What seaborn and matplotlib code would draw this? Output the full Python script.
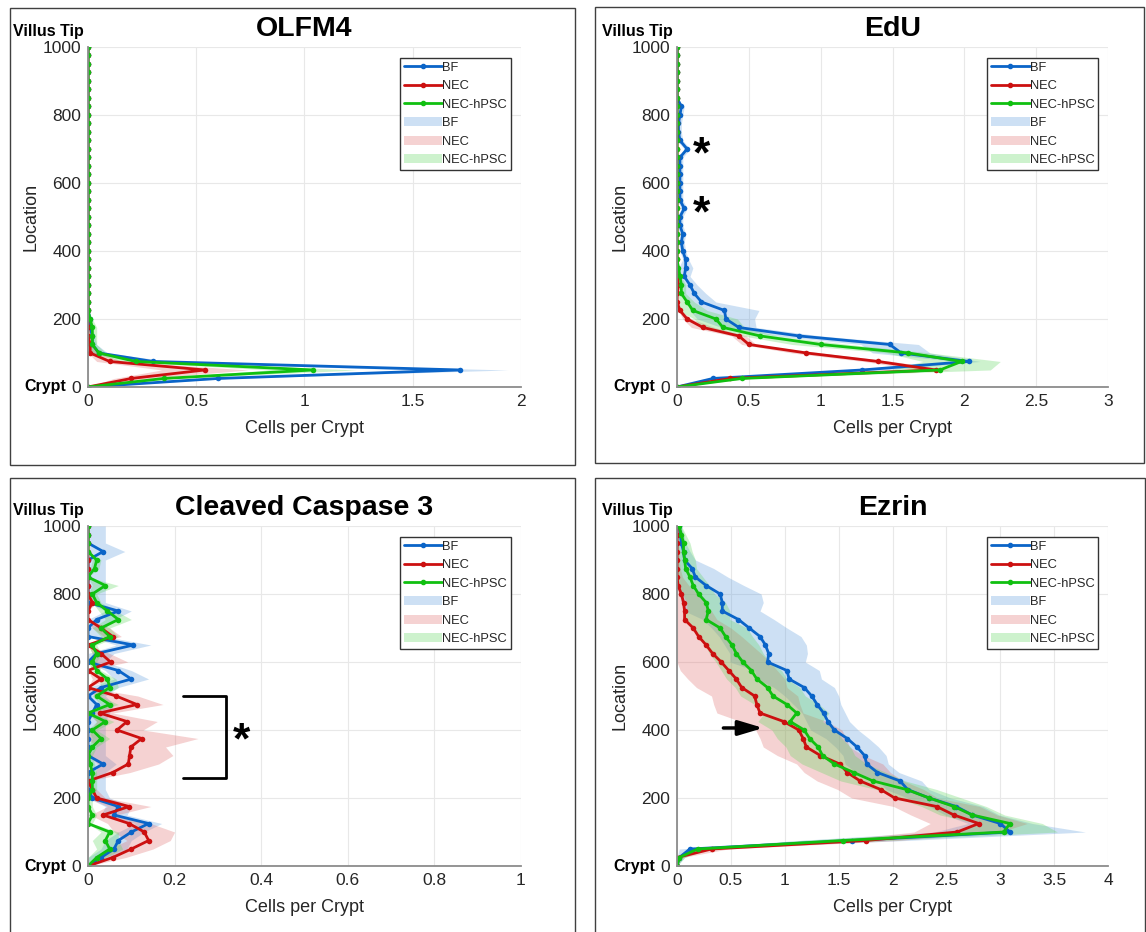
import numpy as np
import matplotlib
matplotlib.use("Agg")
import matplotlib.pyplot as plt
import seaborn as sns
from matplotlib.lines import Line2D
from matplotlib.patches import Patch, Rectangle
from matplotlib.ticker import FuncFormatter

# ------------------------------------------------------------------
# dados (posição 0 -> 1000, passo 25)
# ------------------------------------------------------------------
location = list(range(0, 1001, 25))
groups = ["BF", "NEC", "NEC-hPSC"]

# OLFM4
olfm4_bf = [0, 0.6, 1.72, 0.3, 0.05, 0.02, 0.02, 0.01, 0.01, 0, 0, 0, 0, 0, 0, 0, 0, 0, 0, 0, 0,
            0, 0, 0, 0, 0, 0, 0, 0, 0, 0, 0, 0, 0, 0, 0, 0, 0, 0, 0, 0]
olfm4_nec = [0, 0.2, 0.54, 0.1, 0.01, 0.01, 0, 0, 0, 0, 0, 0, 0, 0, 0, 0, 0, 0, 0, 0, 0,
             0, 0, 0, 0, 0, 0, 0, 0, 0, 0, 0, 0, 0, 0, 0, 0, 0, 0, 0, 0]
olfm4_hpsc = [0, 0.35, 1.04, 0.22, 0.05, 0.02, 0.02, 0.02, 0.01, 0, 0, 0, 0, 0, 0, 0, 0, 0, 0, 0, 0,
              0, 0, 0, 0, 0, 0, 0, 0, 0, 0, 0, 0, 0, 0, 0, 0, 0, 0, 0, 0]
olfm4_bf_sem = [0, 0.05, 0.22, 0.08, 0.04, 0.02, 0.01, 0.01, 0, 0, 0, 0, 0, 0, 0, 0, 0, 0, 0, 0, 0,
                0, 0, 0, 0, 0, 0, 0, 0, 0, 0, 0, 0, 0, 0, 0, 0, 0, 0, 0, 0]
olfm4_nec_sem = [0, 0.08, 0.2, 0.06, 0.04, 0.01, 0, 0, 0, 0, 0, 0, 0, 0, 0, 0, 0, 0, 0, 0, 0,
                 0, 0, 0, 0, 0, 0, 0, 0, 0, 0, 0, 0, 0, 0, 0, 0, 0, 0, 0, 0]
olfm4_hpsc_sem = [0, 0.05, 0.2, 0.07, 0.03, 0.02, 0.02, 0.02, 0.01, 0, 0, 0, 0, 0, 0, 0, 0, 0, 0, 0, 0,
                  0, 0, 0, 0, 0, 0, 0, 0, 0, 0, 0, 0, 0, 0, 0, 0, 0, 0, 0, 0]

# EdU
edu_bf = [0, 0.25, 1.29, 2.03, 1.56, 1.48, 0.85, 0.43, 0.34, 0.33, 0.17, 0.12, 0.09, 0.05, 0.06, 0.06,
          0.04, 0.03, 0.04, 0.02, 0.02, 0.05, 0.02, 0.02, 0.02, 0.02, 0.02, 0.02, 0.07, 0.02, 0.01,
          0.01, 0.02, 0.03, 0, 0, 0, 0, 0, 0, 0]
edu_nec = [0, 0.37, 1.8, 1.4, 0.9, 0.5, 0.43, 0.18, 0.07, 0.02, 0, 0, 0.01, 0, 0, 0, 0, 0, 0, 0, 0,
           0, 0, 0, 0, 0, 0, 0, 0, 0, 0, 0, 0, 0, 0, 0, 0, 0, 0, 0, 0]
edu_hpsc = [0, 0.45, 1.83, 1.98, 1.61, 1.0, 0.58, 0.32, 0.27, 0.11, 0.07, 0.03, 0.03, 0.02, 0.01, 0,
            0, 0, 0, 0, 0, 0, 0, 0, 0, 0, 0, 0, 0, 0, 0, 0, 0, 0, 0, 0, 0, 0, 0, 0, 0]
edu_bf_sem = [0, 0.05, 0.15, 0.08, 0.2, 0.2, 0.15, 0.12, 0.2, 0.24, 0.1, 0.08, 0.05, 0.04, 0.05, 0.02,
              0.02, 0.02, 0.02, 0.02, 0.02, 0.02, 0.02, 0.02, 0.02, 0.02, 0.02, 0.02, 0.02, 0.02, 0.02,
              0.02, 0.02, 0.02, 0, 0, 0, 0, 0, 0, 0]
edu_nec_sem = [0, 0.1, 0.1, 0.1, 0.1, 0.05, 0.05, 0.08, 0.03, 0.01, 0.01, 0.01, 0.01, 0.01, 0, 0,
               0, 0, 0, 0, 0, 0, 0, 0, 0, 0, 0, 0, 0, 0, 0, 0, 0, 0, 0, 0, 0, 0, 0, 0, 0]
edu_hpsc_sem = [0, 0.05, 0.35, 0.27, 0.15, 0.2, 0.12, 0.15, 0.15, 0.1, 0.05, 0.03, 0.03, 0.01, 0.01, 0,
                0, 0, 0, 0, 0, 0, 0, 0, 0, 0, 0, 0, 0, 0, 0, 0, 0, 0, 0, 0, 0, 0, 0, 0, 0]

# Cleaved Caspase 3
casp_bf = [0, 0.03, 0.06, 0.07, 0.10, 0.14, 0.06, 0.07, 0.01, 0, 0, 0, 0.035, 0, 0, 0, 0, 0, 0.01, 0.02,
           0, 0.03, 0.10, 0.07, 0, 0.02, 0.105, 0, 0, 0.02, 0.07, 0, 0, 0, 0, 0, 0, 0.035, 0, 0, 0]
casp_nec = [0, 0.057, 0.10, 0.14, 0.13, 0.095, 0.035, 0.095, 0.02, 0.01, 0, 0.057, 0.093, 0.096, 0.099,
            0.124, 0.067, 0.09, 0.027, 0.113, 0.065, 0, 0.03, 0, 0.052, 0.03, 0, 0.057, 0.03, 0, 0,
            0.01, 0, 0, 0, 0, 0, 0, 0, 0, 0]
casp_hpsc = [0, 0.02, 0.05, 0.04, 0.05, 0, 0.01, 0, 0, 0.01, 0.01, 0.01, 0.005, 0, 0.01, 0.03, 0.01,
             0.04, 0, 0.05, 0.02, 0.05, 0.045, 0.02, 0.01, 0.02, 0.01, 0.05, 0.03, 0.07, 0.045, 0.02,
             0.01, 0.04, 0, 0.015, 0.02, 0, 0, 0, 0]
casp_bf_sem = [0, 0.03, 0.03, 0.03, 0.03, 0.03, 0.03, 0.03, 0.04, 0.04, 0.04, 0.04, 0.03, 0.04, 0.04,
               0.04, 0.04, 0.04, 0.04, 0.04, 0.04, 0.04, 0.04, 0.03, 0.04, 0.04, 0.04, 0.04, 0.04, 0.04,
               0.03, 0.04, 0.04, 0.04, 0.04, 0.04, 0.04, 0.05, 0.04, 0.04, 0.04]
casp_nec_sem = [0, 0.03, 0.05, 0.05, 0.07, 0.05, 0.03, 0.05, 0.02, 0.01, 0, 0.04, 0.07, 0.1, 0.08,
                0.13, 0.06, 0.07, 0.03, 0.06, 0.05, 0, 0.02, 0, 0.04, 0.02, 0, 0.02, 0.02, 0, 0,
                0.01, 0, 0, 0, 0, 0, 0, 0, 0, 0]
casp_hpsc_sem = [0, 0.02, 0.03, 0.03, 0.02, 0.01, 0.01, 0.01, 0.01, 0.01, 0.01, 0.01, 0.01, 0.01, 0.01,
                 0.02, 0.01, 0.02, 0.01, 0.02, 0.01, 0.02, 0.02, 0.01, 0.01, 0.01, 0.01, 0.02, 0.02,
                 0.03, 0.02, 0.01, 0.01, 0.03, 0, 0.01, 0.01, 0, 0, 0, 0]

# Ezrin
ezrin_bf = [0, 0.02, 0.12, 1.62, 3.09, 3.0, 2.74, 2.59, 2.34, 2.14, 2.07, 1.86, 1.76, 1.74, 1.67, 1.58,
            1.46, 1.40, 1.36, 1.30, 1.25, 1.18, 1.04, 1.02, 0.84, 0.85, 0.82, 0.77, 0.67, 0.57, 0.42,
            0.42, 0.40, 0.27, 0.17, 0.14, 0.07, 0.06, 0.04, 0.03, 0.02]
ezrin_nec = [0, 0, 0.32, 1.75, 2.60, 2.80, 2.57, 2.41, 2.02, 1.89, 1.70, 1.58, 1.51, 1.33, 1.20, 1.17,
             1.13, 0.99, 0.77, 0.74, 0.72, 0.60, 0.55, 0.48, 0.41, 0.33, 0.27, 0.20, 0.15, 0.07, 0.07,
             0.06, 0.04, 0.01, 0, 0, 0, 0, 0, 0, 0]
ezrin_hpsc = [0, 0.02, 0.19, 1.54, 3.03, 3.09, 2.74, 2.57, 2.34, 2.13, 1.82, 1.64, 1.46, 1.35, 1.31,
              1.23, 1.18, 1.05, 1.11, 1.02, 0.89, 0.84, 0.74, 0.69, 0.61, 0.55, 0.51, 0.45, 0.40, 0.27,
              0.29, 0.27, 0.20, 0.15, 0.12, 0.08, 0.07, 0.06, 0.06, 0.04, 0.02]
ezrin_bf_sem = [0, 0.05, 0.1, 0.5, 0.7, 0.3, 0.25, 0.25, 0.2, 0.2, 0.2, 0.2, 0.2, 0.2, 0.2, 0.2, 0.22,
                0.2, 0.2, 0.22, 0.25, 0.28, 0.3, 0.3, 0.35, 0.36, 0.38, 0.38, 0.35, 0.33, 0.35, 0.38,
                0.38, 0.35, 0.3, 0.2, 0.1, 0.06, 0.04, 0.03, 0.02]
ezrin_nec_sem = [0, 0.05, 0.15, 0.3, 0.4, 0.45, 0.4, 0.4, 0.4, 0.4, 0.4, 0.4, 0.4, 0.4, 0.4, 0.4, 0.4,
                 0.4, 0.4, 0.4, 0.4, 0.42, 0.45, 0.45, 0.45, 0.45, 0.42, 0.4, 0.35, 0.3, 0.25, 0.2,
                 0.15, 0.1, 0.05, 0.03, 0.02, 0.02, 0.01, 0.01, 0.01]
ezrin_hpsc_sem = [0, 0.05, 0.1, 0.4, 0.5, 0.3, 0.3, 0.3, 0.3, 0.28, 0.3, 0.3, 0.3, 0.3, 0.3, 0.3, 0.3,
                  0.3, 0.3, 0.3, 0.3, 0.3, 0.28, 0.28, 0.25, 0.25, 0.25, 0.25, 0.25, 0.22, 0.2, 0.18,
                  0.15, 0.15, 0.12, 0.1, 0.1, 0.08, 0.06, 0.04, 0.02]

line_colors = ["#0a64c8", "#cc1010", "#10c010"]
band_colors = ["#5b9bdc", "#e06a6a", "#5cd65c"]

# ------------------------------------------------------------------
# figura
# ------------------------------------------------------------------
sns.set_style("whitegrid")
plt.rcParams["font.family"] = ["Liberation Sans", "DejaVu Sans"]

fig = plt.figure(figsize=(11.46, 9.32), dpi=100)

# molduras de cada painel
for (x0, y0, w, h) in [(0.009, 0.501, 0.493, 0.490), (0.519, 0.503, 0.479, 0.490),
                       (0.009, -0.01, 0.493, 0.497), (0.519, -0.01, 0.480, 0.497)]:
    fig.add_artist(Rectangle((x0, y0), w, h, transform=fig.transFigure,
                             fill=False, edgecolor="#404040", linewidth=1.0))

panels = [
    ("OLFM4", [0.0768, 0.5848, 0.3778, 0.3648], 2, 0.5,
     [olfm4_bf, olfm4_nec, olfm4_hpsc], [olfm4_bf_sem, olfm4_nec_sem, olfm4_hpsc_sem]),
    ("EdU", [0.5908, 0.5848, 0.3761, 0.3648], 3, 0.5,
     [edu_bf, edu_nec, edu_hpsc], [edu_bf_sem, edu_nec_sem, edu_hpsc_sem]),
    ("Cleaved Caspase 3", [0.0768, 0.0708, 0.3778, 0.3648], 1, 0.2,
     [casp_bf, casp_nec, casp_hpsc], [casp_bf_sem, casp_nec_sem, casp_hpsc_sem]),
    ("Ezrin", [0.5908, 0.0708, 0.3761, 0.3648], 4, 0.5,
     [ezrin_bf, ezrin_nec, ezrin_hpsc], [ezrin_bf_sem, ezrin_nec_sem, ezrin_hpsc_sem]),
]

loc = np.array(location)
axes = {}
for title, rect, xmax, xstep, means, sems in panels:
    ax = fig.add_axes(rect)
    axes[title] = ax
    # linhas primeiro, faixas por cima (como no original)
    for m, c in zip(means, line_colors):
        sns.lineplot(x=m, y=location, orient="y", ax=ax, color=c, linewidth=2,
                     marker="o", markersize=4, markeredgewidth=0, sort=False)
    for m, s, c in zip(means, sems, band_colors):
        m = np.array(m)
        s = np.array(s)
        ax.fill_betweenx(loc, np.clip(m - s, 0, None), m + s, color=c, alpha=0.3, linewidth=0)

    ax.set_xlim(0, xmax)
    ax.set_ylim(0, 1000)
    ax.set_xticks(np.arange(0, xmax + 1e-9, xstep))
    ax.set_yticks(range(0, 1001, 200))
    ax.xaxis.set_major_formatter(FuncFormatter(lambda v, p: f"{v:g}"))
    ax.grid(True, color="#e8e8e8", linewidth=0.8)
    for sp in ["top", "right"]:
        ax.spines[sp].set_visible(False)
    for sp in ["left", "bottom"]:
        ax.spines[sp].set_color("#8c8c8c")
        ax.spines[sp].set_linewidth(1.3)
    ax.tick_params(axis="both", direction="in", length=4, width=1, color="#555555",
                   labelsize=12.5, labelcolor="#262626", pad=5)
    ax.set_xlabel("Cells per Crypt", fontsize=13, color="#262626", labelpad=8)
    ax.set_ylabel("Location", fontsize=13, color="#262626", labelpad=2)

    ax.text(0.5, 1.052, title, transform=ax.transAxes, ha="center", va="center",
            fontsize=20.5, fontweight="bold", color="black")
    ax.text(-0.01, 1.045, "Villus Tip", transform=ax.transAxes, ha="right", va="center",
            fontsize=11.5, fontweight="bold", color="black")
    ax.text(-0.05, 0.0, "Crypt", transform=ax.transAxes, ha="right", va="center",
            fontsize=11.5, fontweight="bold", color="black")

    handles = [Line2D([0], [0], color=c, lw=2, marker="o", markersize=3) for c in line_colors]
    handles += [Patch(facecolor=c, alpha=0.3, edgecolor="none") for c in band_colors]
    leg = ax.legend(handles, groups + groups, loc="upper right", bbox_to_anchor=(0.977, 0.968),
                    fontsize=9.3, handlelength=3.0, handletextpad=0.0, labelspacing=0.5,
                    borderpad=0.3, fancybox=False, framealpha=1, edgecolor="#333333",
                    borderaxespad=0)
    leg.get_frame().set_linewidth(1.0)

# anotações
ax = axes["EdU"]
ax.text(0.17, 680, "*", fontsize=32, fontweight="bold", ha="center", va="center", color="black")
ax.text(0.17, 505, "*", fontsize=32, fontweight="bold", ha="center", va="center", color="black")

ax = axes["Cleaved Caspase 3"]
ax.plot([0.22, 0.318, 0.318, 0.22], [500, 500, 260, 260], color="black", lw=2)
ax.text(0.355, 365, "*", fontsize=32, fontweight="bold", ha="center", va="center", color="black")

ax = axes["Ezrin"]
ax.annotate("", xy=(0.8, 406), xytext=(0.43, 406),
            arrowprops=dict(arrowstyle="-|>,head_length=1.5,head_width=0.45", color="black",
                            lw=2.5, shrinkA=0, shrinkB=0))

fig.savefig("out.png", dpi=100)
